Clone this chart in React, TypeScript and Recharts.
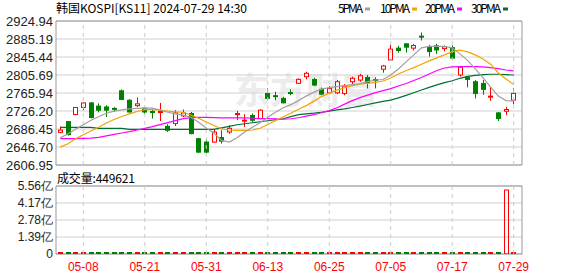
import React from "react";
import {
  ComposedChart,
  Bar,
  Line,
  XAxis,
  YAxis,
  CartesianGrid,
  ReferenceLine,
  ReferenceArea,
} from "recharts";

// trading days shown (60 candles)
const dates = [
  "05-02", "05-03", "05-07", "05-08", "05-09", "05-10", "05-13", "05-14", "05-16", "05-17",
  "05-20", "05-21", "05-22", "05-23", "05-24", "05-27", "05-28", "05-29", "05-30", "05-31",
  "06-03", "06-04", "06-05", "06-07", "06-10", "06-11", "06-12", "06-13", "06-14", "06-17",
  "06-18", "06-19", "06-20", "06-21", "06-24", "06-25", "06-26", "06-27", "06-28", "07-01",
  "07-02", "07-03", "07-04", "07-05", "07-08", "07-09", "07-10", "07-11", "07-12", "07-15",
  "07-16", "07-17", "07-18", "07-19", "07-22", "07-23", "07-24", "07-25", "07-26", "07-29",
];

const opens = [
  2679, 2702.7, 2718.4, 2734, 2744, 2737, 2735, 2732, 2770.8, 2750,
  2738, 2732.4, 2725, 2723, 2692.4, 2698.4, 2715.3, 2720.6, 2665, 2657.6,
  2657.6, 2667.4, 2679.8, 2718.6, 2704.5, 2716.2, 2709.5, 2765, 2760, 2754,
  2767, 2787.3, 2801.9, 2796.1, 2774, 2766.4, 2766.4, 2765, 2790.8, 2794.6,
  2800, 2795.5, 2818.4, 2839, 2865, 2874.5, 2865, 2891.5, 2867.2, 2870,
  2864, 2866, 2805.7, 2800.6, 2790.8, 2787, 2757.5, 2722, 2725.7, 2750.2,
];
const highs = [
  2692, 2704, 2735, 2745, 2746, 2743, 2739, 2734.6, 2774, 2752,
  2756, 2735.3, 2729.5, 2744, 2697, 2728, 2729.5, 2724, 2667, 2665,
  2686, 2683.6, 2694.7, 2726.4, 2719.1, 2720.6, 2730, 2776, 2768.6, 2757.5,
  2774, 2798, 2813, 2799.7, 2778, 2781, 2794.6, 2785.7, 2802, 2808,
  2805.7, 2800.6, 2828, 2872.3, 2870, 2876, 2874.5, 2899.6, 2872.3, 2874.5,
  2871, 2871, 2825.7, 2803.5, 2794.6, 2794.6, 2779.7, 2724.2, 2735.3, 2776.2,
];
const lows = [
  2677, 2672, 2717, 2728, 2710, 2723, 2713, 2724, 2750, 2723,
  2735, 2719, 2709.5, 2704, 2680, 2693, 2713, 2674.7, 2633, 2633,
  2656, 2654, 2676, 2705.8, 2690.9, 2702, 2708, 2750, 2750, 2742.9,
  2761, 2786, 2796, 2781, 2761, 2765, 2763.5, 2761, 2783.5, 2790.8,
  2776, 2776, 2810.8, 2837.4, 2855, 2855.2, 2859.7, 2881.9, 2846.3, 2852.3,
  2858, 2840, 2802, 2778.4, 2754, 2762, 2748.6, 2704.2, 2717, 2741,
];
const closes = [
  2684, 2674, 2734, 2744, 2711.8, 2728, 2728, 2730, 2751.7, 2724,
  2742, 2724, 2723, 2725, 2683.6, 2722, 2722, 2676.2, 2635.4, 2635.4,
  2679.8, 2659.8, 2688, 2720.5, 2706, 2705.8, 2728, 2754, 2758, 2744.2,
  2765, 2796.1, 2809.5, 2783.5, 2763.5, 2776.2, 2790.8, 2781.2, 2798.4, 2804,
  2788, 2794, 2825.7, 2862.8, 2859.7, 2867.2, 2870.7, 2890, 2857.4, 2861,
  2868, 2843, 2822.8, 2796, 2765, 2774, 2759, 2709.5, 2729.5, 2765,
];

// moving averages as drawn
const ma5 = [
  2666.9, 2675.8, 2685.8, 2695.8, 2705.8, 2713.6, 2721.3, 2725.8, 2728.6, 2730.9,
  2731.8, 2732.4, 2732.4, 2728.0, 2723.5, 2719.8, 2716.9, 2712.4, 2701.3, 2688.7,
  2676.9, 2661.4, 2657.6, 2666.9, 2679.8, 2690.2, 2700.2, 2712.4, 2723.5, 2733.5,
  2740.2, 2749.1, 2759.1, 2767.9, 2774.6, 2777.9, 2780.2, 2782.4, 2784.6, 2786.8,
  2791.2, 2794.6, 2795.7, 2805.7, 2819.0, 2834.6, 2850.1, 2865.6, 2869.0, 2869.0,
  2869.0, 2865.6, 2852.3, 2837.9, 2819.0, 2800.1, 2779.1, 2759.1, 2749.1, 2748.0,
];
const ma10 = [
  2646.5, 2654.0, 2664.7, 2673.6, 2682.0, 2690.2, 2699.8, 2707.3, 2714.0, 2719.8,
  2725.1, 2729.1, 2729.1, 2728.0, 2725.8, 2724.2, 2723.5, 2717.5, 2710.2, 2702.0,
  2694.0, 2686.4, 2684.2, 2683.6, 2683.6, 2684.2, 2688.0, 2696.2, 2704.7, 2713.6,
  2721.3, 2730.2, 2738.0, 2748.0, 2758.0, 2765.7, 2772.4, 2777.9, 2782.4, 2785.7,
  2787.3, 2789.5, 2792.4, 2799.0, 2807.9, 2815.2, 2821.9, 2829.5, 2836.8, 2843.5,
  2850.1, 2857.4, 2860.5, 2856.8, 2850.1, 2841.2, 2829.5, 2810.1, 2796.8, 2785.0,
];
const ma20 = [
  2665.2, 2665.2, 2665.2, 2665.8, 2666.5, 2668.0, 2671.4, 2674.7, 2677.6, 2680.7,
  2684.2, 2688.0, 2691.8, 2696.2, 2700.7, 2705.1, 2709.5, 2711.5, 2712.0, 2712.0,
  2711.5, 2711.0, 2710.9, 2710.9, 2710.9, 2710.2, 2709.5, 2709.5, 2708.7, 2708.0,
  2709.1, 2711.3, 2714.7, 2718.0, 2722.4, 2726.9, 2733.5, 2741.3, 2749.1, 2755.7,
  2761.3, 2766.8, 2771.3, 2775.7, 2781.3, 2786.8, 2793.5, 2800.1, 2807.9, 2815.7,
  2821.2, 2823.5, 2824.1, 2824.1, 2824.1, 2823.5, 2821.9, 2819.7, 2816.8, 2814.6,
];
const ma30 = [
  2690.2, 2690.2, 2690.2, 2690.2, 2690.2, 2688.0, 2688.0, 2688.0, 2688.0, 2685.8,
  2685.8, 2685.8, 2685.8, 2685.8, 2685.8, 2685.8, 2685.8, 2685.8, 2685.8, 2685.8,
  2685.8, 2689.1, 2692.4, 2695.8, 2698.0, 2700.2, 2702.4, 2704.7, 2706.9, 2709.1,
  2713.6, 2718.0, 2719.8, 2721.3, 2723.5, 2725.8, 2728.6, 2730.9, 2734.0, 2736.9,
  2740.6, 2744.2, 2747.3, 2750.2, 2755.3, 2760.6, 2766.4, 2772.5, 2778.5, 2784.0,
  2789.0, 2793.0, 2798.4, 2802.8, 2805.0, 2806.4, 2807.3, 2807.3, 2806.4, 2805.7,
];

const volumes = [
  612340, 587210, 534800, 498760, 521430, 476900, 455320, 501870, 563200, 489650,
  472310, 458900, 512640, 497300, 548720, 466150, 452980, 531470, 604320, 578960,
  511280, 493750, 482610, 526300, 468940, 451870, 497520, 559830, 503460, 478210,
  462750, 538190, 569420, 487630, 472180, 455960, 513740, 468320, 496850, 521370,
  489910, 447280, 532640, 598710, 514230, 487560, 476390, 541820, 519740, 493180,
  468720, 552360, 587940, 529410, 573860, 508270, 496150, 612480, 523000000, 449621,
];

const priceTicks = [2606.95, 2646.7, 2686.45, 2726.2, 2765.94, 2805.69, 2845.44, 2885.19, 2924.94];
const volTicks = [0, 139000000, 278000000, 417000000, 556000000];
const labelIdx = [3, 11, 19, 27, 35, 43, 51, 59];
const maNames = ["5PMA", "10PMA", "20PMA", "30PMA"];
const title = "韩国KOSPI[KS11] 2024-07-29 14:30";
const volTitle = "成交量:449621";

const RED = "#ff0000";
const GREEN = "#008000";
const maColors = ["#a0a0a0", "#f5a300", "#ff00ff", "#006f35"];
const X_DOMAIN: [number, number] = [-0.55, 60.08];

const rows = dates.map((d, i) => ({
  i,
  date: d,
  open: opens[i],
  high: highs[i],
  low: lows[i],
  close: closes[i],
  range: [lows[i], highs[i]],
  ma5: ma5[i],
  ma10: ma10[i],
  ma20: ma20[i],
  ma30: ma30[i],
  vol: volumes[i],
}));

function Candle(props: any) {
  const { x, y, width, height, payload } = props;
  const { open, close, high, low } = payload;
  const top = Math.min(y, y + height);
  const h = Math.abs(height);
  const py = (v: number) => top + ((high - v) / (high - low)) * h;
  const cx = Math.round(x + width / 2) + 0.5;
  const up = close >= open;
  const color = up ? RED : GREEN;
  const bTop = py(Math.max(open, close));
  const bBot = Math.max(py(Math.min(open, close)), bTop + 1);
  return (
    <g>
      <line x1={cx} x2={cx} y1={top} y2={bTop} stroke={color} />
      <line x1={cx} x2={cx} y1={bBot} y2={top + h} stroke={color} />
      <rect
        x={cx - 2}
        y={bTop}
        width={4}
        height={bBot - bTop}
        fill={up ? "#ffffff" : color}
        stroke={color}
      />
    </g>
  );
}

function VolBar(props: any) {
  const { x, y, width, height, payload } = props;
  const up = payload.close >= payload.open;
  const color = up ? RED : GREEN;
  const cx = Math.round(x + width / 2) + 0.5;
  const bottom = Math.max(y, y + height);
  const h = Math.abs(height);
  if (h < 3) {
    return <rect x={cx - 2.5} y={bottom - 2} width={5} height={2} fill={color} />;
  }
  return (
    <rect
      x={cx - 2}
      y={bottom - h}
      width={4}
      height={h}
      fill={up ? "none" : color}
      stroke={color}
    />
  );
}

const fmtVol = (v: number) => (v === 0 ? "0" : (v / 1e8).toFixed(2) + "亿");

export default function App() {
  const legendX = [338, 380, 425, 471];
  const legendW = [25, 30, 30, 30];
  return (
    <div
      style={{
        position: "absolute",
        left: 0,
        top: 0,
        width: 578,
        height: 276,
        background: "#fff",
        overflow: "hidden",
        fontFamily: "'Liberation Sans', Arial, sans-serif",
      }}
    >
      {/* faint watermark */}
      <div
        style={{
          position: "absolute",
          left: 234,
          top: 68,
          fontSize: 36,
          fontWeight: 700,
          color: "#ececec",
          fontFamily: "'Noto Sans CJK SC'",
          lineHeight: "40px",
        }}
      >
        东方财富
      </div>

      <div style={{ position: "absolute", left: 0, top: 0 }}>
        <ComposedChart width={578} height={178} data={rows} margin={{ top: 21, right: 56, bottom: 13, left: 0 }}>
          <CartesianGrid vertical={false} stroke="#d0d0d0" />
          <XAxis type="number" dataKey="i" domain={X_DOMAIN} allowDataOverflow hide />
          <YAxis
            domain={[2606.95, 2924.94]}
            ticks={priceTicks}
            allowDataOverflow
            width={56}
            axisLine={false}
            tickLine={false}
            tickSize={0}
            tickMargin={3}
            interval={0}
            tickFormatter={(v: number) => v.toFixed(2)}
            tick={{ fontSize: 13, fill: "#222" }}
          />
          {labelIdx.map((v) => (
            <ReferenceLine key={v} x={v} stroke="#cccccc" strokeDasharray="4 4" />
          ))}
          <ReferenceArea
            x1={X_DOMAIN[0]}
            x2={X_DOMAIN[1]}
            y1={2606.95}
            y2={2924.94}
            fill="none"
            stroke="#999999"
            strokeOpacity={1}
          />
          <Line dataKey="ma30" stroke={maColors[3]} dot={false} isAnimationActive={false} strokeWidth={1.2} />
          <Line dataKey="ma20" stroke={maColors[2]} dot={false} isAnimationActive={false} strokeWidth={1.2} />
          <Line dataKey="ma10" stroke={maColors[1]} dot={false} isAnimationActive={false} strokeWidth={1.2} />
          <Line dataKey="ma5" stroke={maColors[0]} dot={false} isAnimationActive={false} strokeWidth={1.2} />
          <Bar dataKey="range" barSize={5} shape={<Candle />} isAnimationActive={false} />
        </ComposedChart>
      </div>

      <div style={{ position: "absolute", left: 0, top: 0 }}>
        <ComposedChart width={578} height={276} data={rows} margin={{ top: 186, right: 56, bottom: 0, left: 0 }}>
          <CartesianGrid vertical={false} stroke="#d0d0d0" />
          <XAxis
            type="number"
            dataKey="i"
            domain={X_DOMAIN}
            allowDataOverflow
            ticks={labelIdx}
            interval={0}
            height={22}
            axisLine={false}
            tickLine={false}
            tickSize={0}
            tickMargin={8}
            tickFormatter={(v: number) => dates[v] ?? ""}
            tick={{ fontSize: 12, fill: RED }}
          />
          <YAxis
            domain={[0, 556000000]}
            ticks={volTicks}
            allowDataOverflow
            width={56}
            axisLine={false}
            tickLine={false}
            tickSize={0}
            tickMargin={3}
            interval={0}
            tickFormatter={fmtVol}
            tick={{ fontSize: 12, fill: "#222" }}
          />
          {labelIdx.map((v) => (
            <ReferenceLine key={v} x={v} stroke="#cccccc" strokeDasharray="4 4" />
          ))}
          <ReferenceArea
            x1={X_DOMAIN[0]}
            x2={X_DOMAIN[1]}
            y1={0}
            y2={556000000}
            fill="none"
            stroke="#999999"
            strokeOpacity={1}
          />
          <Bar dataKey="vol" barSize={5} minPointSize={1} shape={<VolBar />} isAnimationActive={false} />
        </ComposedChart>
      </div>

      <svg width={578} height={276} style={{ position: "absolute", left: 0, top: 0, pointerEvents: "none" }}>
        <text x={56} y={13} fontSize={12} fontFamily="'Noto Sans CJK SC'" textLength={191} fill="#000">
          {title}
        </text>
        {maNames.map((n, k) => (
          <g key={n}>
            <text x={legendX[k]} y={13} fontSize={12} fontFamily="'Noto Sans CJK SC'" textLength={legendW[k]} fill="#000">
              {n}
            </text>
            <rect x={legendX[k] + legendW[k] + 2} y={7.5} width={5} height={3} fill={maColors[k]} />
          </g>
        ))}
        <text x={57} y={183} fontSize={12} fontFamily="'Noto Sans CJK SC'" textLength={78} fill="#000">
          {volTitle}
        </text>
      </svg>
    </div>
  );
}
